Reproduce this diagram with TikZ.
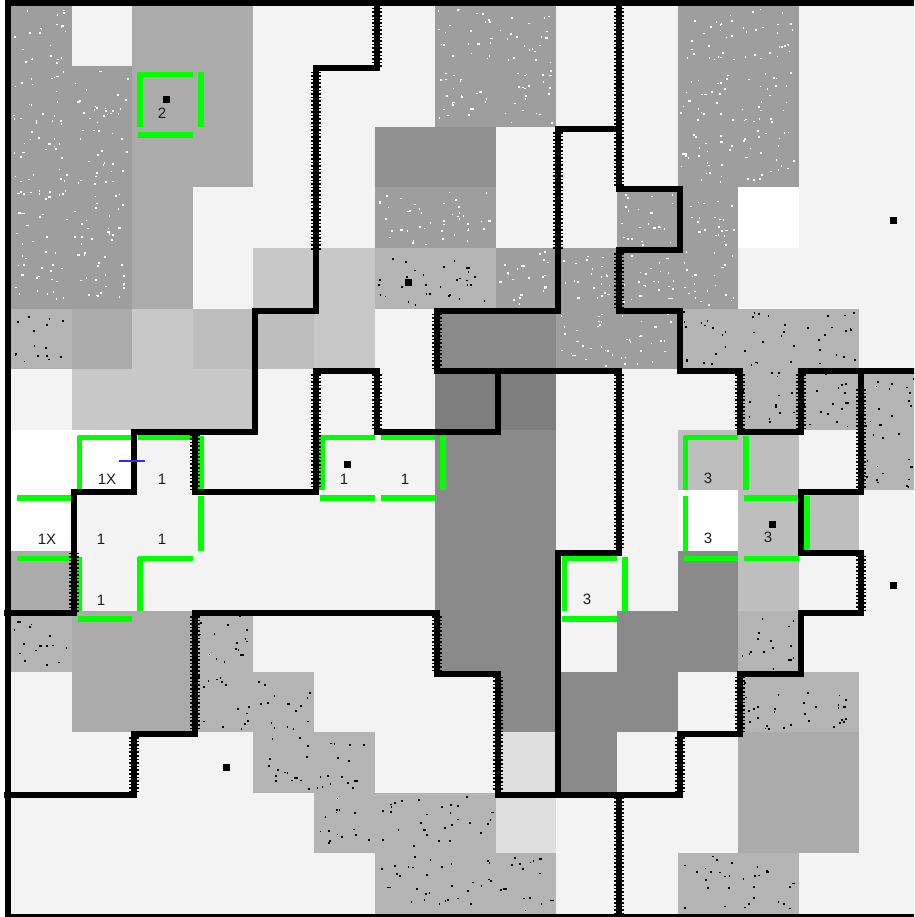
\documentclass[tikz,border=0pt]{standalone}
\usepackage{fontspec}
\setmainfont{Liberation Sans}
\definecolor{cW}{HTML}{F3F3F3}
\definecolor{cP}{HTML}{FFFFFF}
\definecolor{cT}{HTML}{9E9E9E}
\definecolor{cB}{HTML}{B4B4B4}
\definecolor{cA}{HTML}{ABABAB}
\definecolor{cC}{HTML}{C8C8C8}
\definecolor{cE}{HTML}{BEBEBE}
\definecolor{cD}{HTML}{8A8A8A}
\definecolor{cK}{HTML}{7E7E7E}
\definecolor{cF}{HTML}{909090}
\definecolor{cL}{HTML}{DFDFDF}
\definecolor{gline}{HTML}{00FF00}
\definecolor{bline}{HTML}{2A2AFF}
\definecolor{ink}{HTML}{1C1C1C}
\tikzset{
  wall/.style={line width=6pt, line cap=rect, line join=miter, black},
  zip/.style={line width=10pt, dash pattern=on 1.6pt off 2pt, black},
  greenseg/.style={line width=5.5pt, gline},
  lbl/.style={font=\fontsize{15}{15}\selectfont, text=ink, inner sep=0pt},
  sq/.style={fill=black}
}
\newcommand\dotT{\foreach \k in {1,...,22}{%
  \pgfmathsetmacro\dx{0.04+0.88*rnd}\pgfmathsetmacro\dy{0.04+0.9*rnd}%
  \pgfmathsetmacro\dw{0.026*(1+floor(2.6*rnd*rnd*rnd))}%
  \fill[white] ({\c+\dx},{\r+\dy}) rectangle ++(\dw,0.027);}}
\newcommand\dotB{\foreach \k in {1,...,15}{%
  \pgfmathsetmacro\dx{0.04+0.88*rnd}\pgfmathsetmacro\dy{0.04+0.9*rnd}%
  \pgfmathsetmacro\dw{0.028*(1+floor(2.2*rnd*rnd*rnd))}%
  \fill[black] ({\c+\dx},{\r+\dy}) rectangle ++(\dw,0.03);}}
\newcommand\gh[2]{\draw[greenseg] ([shift={(6pt,-8pt)}]#1,#2) -- ([shift={(0pt,-8pt)}]{#1+1},#2);}
\newcommand\gv[2]{\draw[greenseg] ([shift={(8pt,-6pt)}]#1,#2) -- ([shift={(8pt,0pt)}]#1,{#2+1});}
\begin{document}
\begin{tikzpicture}[x=1pt,y=-1pt]
\useasboundingbox (0,0) rectangle (914,917);
\clip (0,0) rectangle (914,917);
\fill[white] (0,0) rectangle (914,917);
\pgfmathsetseed{4711}
\begin{scope}[shift={(11,6)},x=60.6pt,y=-60.5pt]
  \foreach \rowlist [count=\r from 0] in {
    {T,W,A,A,W,W,W,T,T,W,W,T,T,W,W},
    {T,T,A,A,W,W,W,T,T,W,W,T,T,W,W},
    {T,T,A,A,W,W,F,F,W,W,W,T,T,W,W},
    {T,T,A,W,W,W,T,T,W,W,T,T,P,W,W},
    {T,T,A,W,C,C,B,B,T,T,T,T,W,W,W},
    {B,A,C,E,E,C,W,D,D,T,T,B,B,B,W},
    {W,C,C,C,W,W,W,K,K,W,W,W,B,B,B},
    {P,P,W,W,W,W,W,D,D,W,W,E,E,W,B},
    {P,W,W,W,W,W,W,D,D,W,W,P,E,E,W},
    {A,W,W,W,W,W,W,D,D,W,W,D,E,W,W},
    {B,A,A,B,W,W,W,D,D,W,D,D,B,W,W},
    {W,A,A,B,B,W,W,W,D,D,D,W,B,B,W},
    {W,W,W,W,B,B,W,W,L,D,W,W,A,A,W},
    {W,W,W,W,W,B,B,B,L,W,W,W,A,A,W},
    {W,W,W,W,W,W,B,B,B,W,W,B,B,W,W}}{
    \foreach \s [count=\c from 0] in \rowlist {
      \fill[fill=c\s] (\c,\r) rectangle ({\c+1.01},{\r+1.01});
      \csname dot\s\endcsname
    }
  }
  % green outlines
  \gh{2}{1}\gh{2}{2}\gv{2}{1}\gv{3}{1}
  \gh{1}{7}\gh{2}{7}\gv{1}{7}\gv{3}{7}\gh{0}{8}\gv{3}{8}
  \gh{0}{9}\gh{2}{9}\gv{1}{9}\gv{2}{9}\gh{1}{10}
  \gh{5}{7}\gh{6}{7}\gv{5}{7}\gv{7}{7}\gh{5}{8}\gh{6}{8}
  \gh{9}{9}\gh{9}{10}\gv{9}{9}\gv{10}{9}
  \gh{11}{7}\gv{11}{7}\gv{12}{7}\gh{12}{8}\gv{11}{8}\gv{13}{8}\gh{11}{9}\gh{12}{9}
  % walls
  \begin{scope}[shift={(2pt,-2pt)}]
    \draw[wall] (6,-0.3) -- (6,1) -- (5,1) -- (5,5) -- (4,5) -- (4,7) -- (2,7) -- (2,8) -- (1,8) -- (1,10) -- (-0.1,10);
    \draw[zip] (6,-0.3) -- (6,1);
    \draw[zip] (5,1.05) -- (5,4);
    \draw[zip] (1,9) -- (1,10);
    \draw[wall] (8,6) -- (8,7) -- (6,7) -- (6,6) -- (5,6) -- (5,8) -- (3,8) -- (3,7);
    \draw[zip] (6,6.05) -- (6,6.95);
    \draw[zip] (5,6.05) -- (5,7.95);
    \draw[zip] (3,7.05) -- (3,7.95);
    \draw[wall] (10,-0.3) -- (10,3) -- (11,3) -- (11,4) -- (10,4) -- (10,5) -- (11,5) -- (11,6) -- (12,6) -- (12,7) -- (13,7) -- (13,6) -- (15.3,6);
    \draw[zip] (10,-0.3) -- (10,2.95);
    \draw[zip] (10,4.05) -- (10,4.95);
    \draw[zip] (12,6.05) -- (12,6.95);
    \draw[zip] (13,6.05) -- (13,6.95);
    \draw[wall] (10,2) -- (9,2) -- (9,5) -- (7,5) -- (7,6) -- (10,6) -- (10,9) -- (9,9) -- (9,13);
    \draw[zip] (9,2.05) -- (9,4);
    \draw[zip] (7,5.05) -- (7,5.95);
    \draw[zip] (10,6.05) -- (10,8.95);
    \draw[wall] (14,6) -- (14,8) -- (13,8) -- (13,9) -- (14,9) -- (14,10) -- (13,10) -- (13,11) -- (12,11) -- (12,12) -- (11,12) -- (11,13) -- (8,13) -- (8,11) -- (7,11) -- (7,10) -- (3,10) -- (3,12) -- (2,12) -- (2,13) -- (-0.1,13);
    \draw[zip] (14,6.3) -- (14,7.95);
    \draw[zip] (14,9.05) -- (14,9.95);
    \draw[zip] (12,11.05) -- (12,11.95);
    \draw[zip] (11,12.05) -- (11,12.95);
    \draw[zip] (8,11.05) -- (8,12.95);
    \draw[zip] (7,10.05) -- (7,10.95);
    \draw[zip] (3,10.05) -- (3,11.95);
    \draw[zip] (2,12.05) -- (2,12.95);
    \draw[wall] (10,13) -- (10,15.3);
    \draw[zip] (10,13.05) -- (10,15.3);
  \end{scope}
\end{scope}
% frame
\fill[black] (5,0) rectangle (914,6);
\fill[black] (5,0) rectangle (11,917);
\fill[black] (5,913.5) rectangle (914,917);
% blue mark
\draw[bline, line width=2pt] (119,461) -- (145,461);
% squares
\fill[sq] (162.5,96.5) rectangle ++(7,7);
\fill[sq] (343.5,460.5) rectangle ++(7,7);
\fill[sq] (404.5,278.5) rectangle ++(7,7);
\fill[sq] (889.5,217.5) rectangle ++(7,7);
\fill[sq] (889.5,581.5) rectangle ++(7,7);
\fill[sq] (222.5,763.5) rectangle ++(7,7);
\fill[sq] (768.5,520.5) rectangle ++(7,7);
% labels
\node[lbl] (l2) at (162,113) {2};
\node[lbl] (l1xa) at (107,479) {1X};
\node[lbl] (l1a) at (162,479) {1};
\node[lbl] (l1xb) at (47,539) {1X};
\node[lbl] (l1b) at (101,539) {1};
\node[lbl] (l1c) at (162,539) {1};
\node[lbl] (l1d) at (101,600) {1};
\node[lbl] (l1e) at (344,479) {1};
\node[lbl] (l1f) at (405,479) {1};
\node[lbl] (l3a) at (587,599) {3};
\node[lbl] (l3b) at (708,478) {3};
\node[lbl] (l3c) at (708,538) {3};
\node[lbl] (l3d) at (768,537) {3};
\end{tikzpicture}
\end{document}
